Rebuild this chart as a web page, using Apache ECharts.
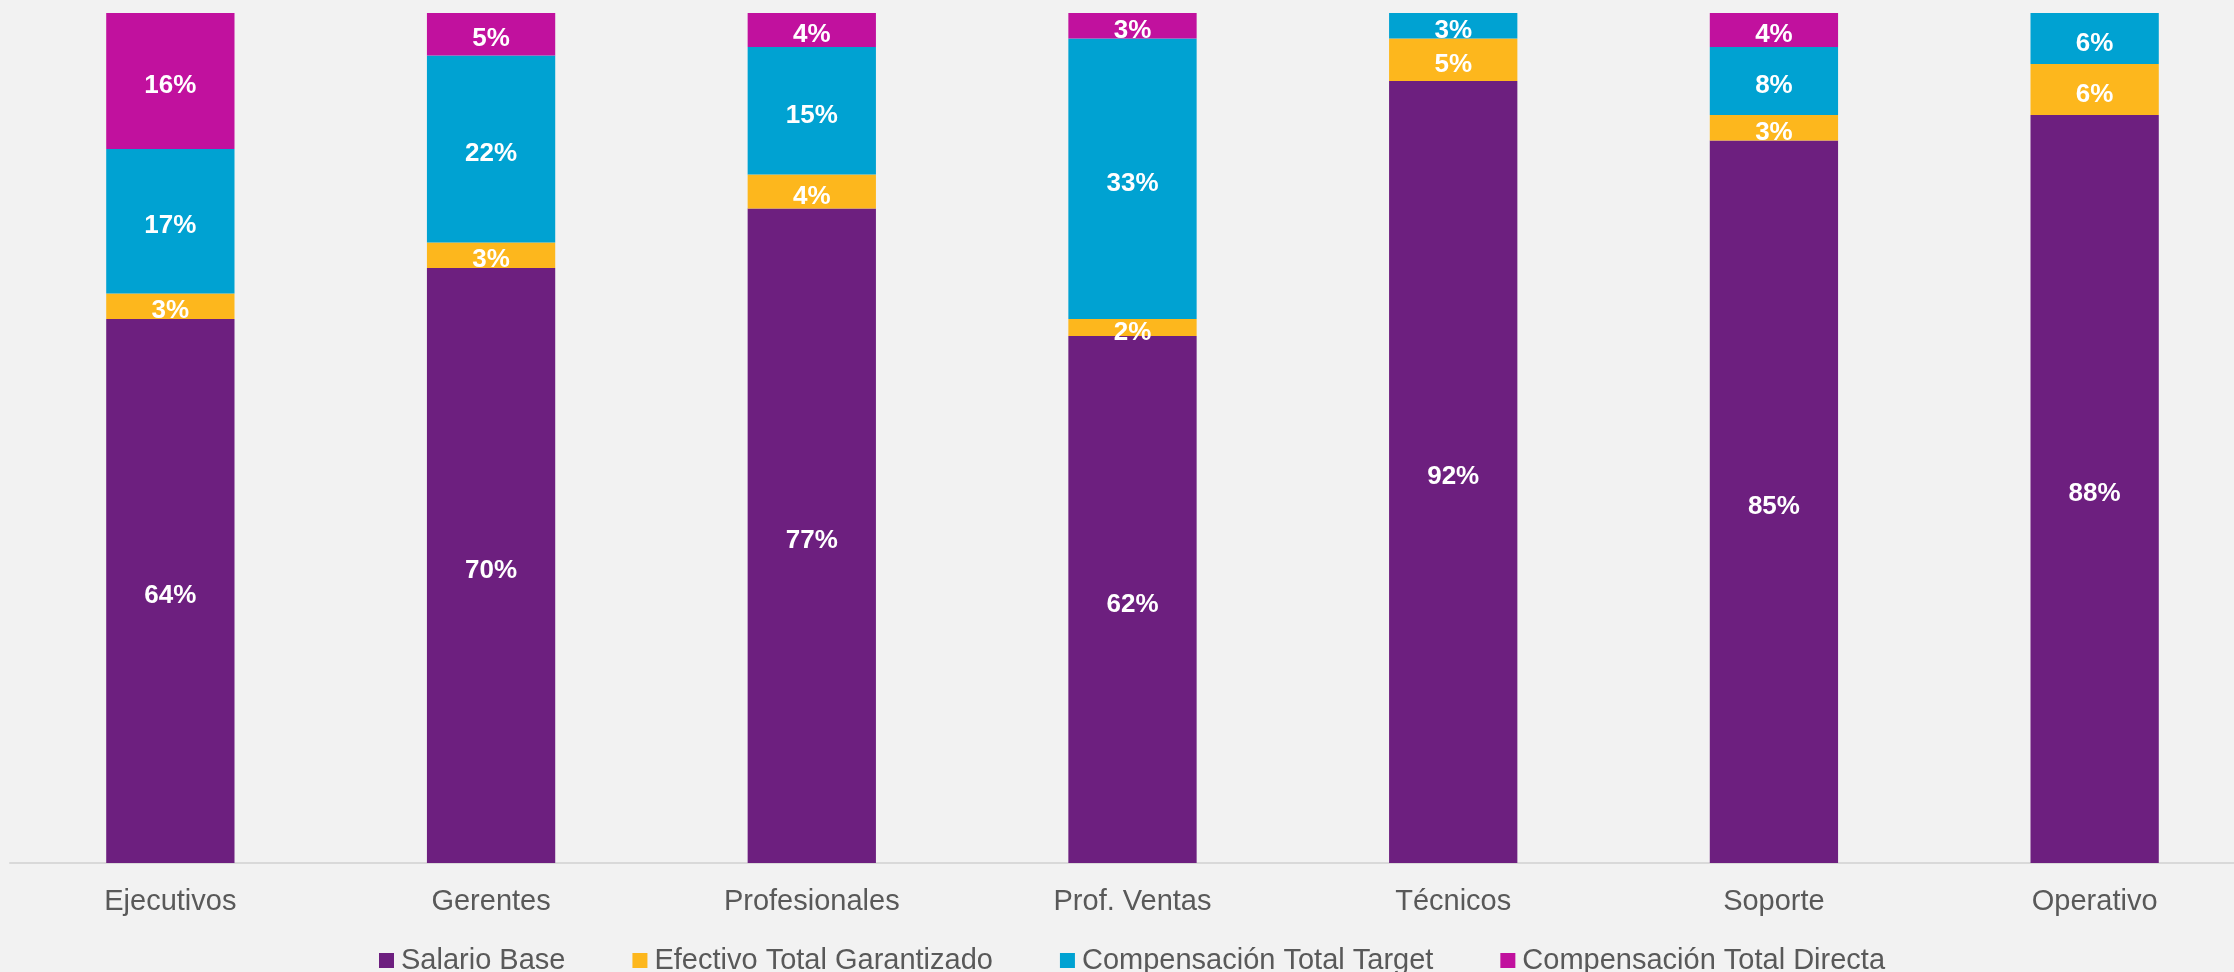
<!DOCTYPE html>
<html>
<head>
<meta charset="utf-8">
<script src="https://cdn.jsdelivr.net/npm/echarts@6/dist/echarts.min.js"></script>
<style>
html,body{margin:0;padding:0;background:#F2F2F2;overflow:hidden;width:2234px;height:972px;}
#chart{width:2256px;height:972px;}
</style>
</head>
<body>
<div id="chart"></div>
<script>
const categories = ['Ejecutivos','Gerentes','Profesionales','Prof. Ventas','Técnicos','Soporte','Operativo'];
const salarioBase = [64,70,77,62,92,85,88];
const efectivoTotalGarantizado = [3,3,4,2,5,3,6];
const compensacionTotalTarget = [17,22,15,33,3,8,6];
const compensacionTotalDirecta = [16,5,4,3,0,4,0];
const seriesNames = ['Salario Base','Efectivo Total Garantizado','Compensación Total Target','Compensación Total Directa'];
const seriesColors = ['#6D1F7F','#FDB71D','#00A2D2','#C1119E'];
const seriesData = [salarioBase, efectivoTotalGarantizado, compensacionTotalTarget, compensacionTotalDirecta];

const chart = echarts.init(document.getElementById('chart'));
const font = '"Liberation Sans", Arial, sans-serif';
chart.setOption({
  backgroundColor: '#F2F2F2',
  animation: false,
  grid: { left: 10, top: 13, bottom: 109, right: 1 },
  legend: {
    left: 379, top: 946, padding: 0,
    itemWidth: 15, itemHeight: 15, itemGap: 67,
    icon: 'rect',
    textStyle: { fontFamily: font, fontSize: 29, color: '#595959', lineHeight: 29, padding: [0,0,0,2] },
    data: seriesNames
  },
  xAxis: {
    type: 'category',
    data: categories,
    axisLine: { lineStyle: { color: '#D9D9D9', width: 2 } },
    axisTick: { show: false },
    axisLabel: { fontFamily: font, fontSize: 29, color: '#595959', margin: 24 }
  },
  yAxis: {
    type: 'value', min: 0, max: 100,
    show: false,
    splitLine: { show: false }
  },
  series: seriesData.map((d, i) => ({
    name: seriesNames[i],
    type: 'bar',
    stack: 'total',
    barWidth: '40%',
    data: d,
    itemStyle: { color: seriesColors[i] },
    label: {
      show: true,
      position: 'inside',
      offset: [0, 5],
      fontFamily: font,
      fontSize: 26,
      fontWeight: 'bold',
      color: '#FFFFFF',
      formatter: p => p.value ? p.value + '%' : ''
    }
  }))
});
</script>
</body>
</html>
